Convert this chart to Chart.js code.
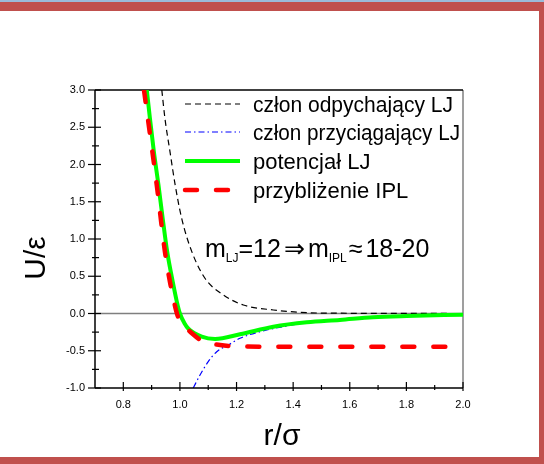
<!DOCTYPE html>
<html><head><meta charset="utf-8">
<script src="https://cdn.jsdelivr.net/npm/chart.js@4/dist/chart.umd.min.js"></script>
<style>
html,body{margin:0;padding:0;background:#fff;overflow:hidden}
#wrap{position:relative;width:544px;height:464px}
canvas{position:absolute;left:0;top:0}
.b{position:absolute}
</style></head><body>
<div id="wrap">
<canvas id="c" width="544" height="464"></canvas>
<div class="b" style="left:0;top:0;width:544px;height:2px;background:#9bbbd9"></div>
<div class="b" style="left:0;top:2px;width:544px;height:9px;background:#c0504d"></div>
<div class="b" style="left:539px;top:2px;width:5px;height:462px;background:#c0504d"></div>
<div class="b" style="left:0;top:457px;width:544px;height:7px;background:#c0504d"></div>
</div>
<script>
// ---- data ----
const seriesNames = ['człon odpychający LJ', 'człon przyciągający LJ', 'potencjał LJ', 'przybliżenie IPL'];

const rRepulsive = [0.936, 0.947, 0.965, 0.983, 1.006, 1.042, 1.089, 1.153, 1.224, 1.330, 1.448, 1.565, 1.700, 1.850, 2.000];
const uRepulsive = [3.00, 2.62, 2.17, 1.73, 1.28, 0.83, 0.47, 0.25, 0.114, 0.047, 0.011, 0.004, 0.002, 0.001, 0.000];

const rAttractive = [1.047, 1.071, 1.100, 1.130, 1.171, 1.212, 1.283, 1.377, 1.450, 1.565, 1.682, 1.800, 2.000];
const uAttractive = [-1.00, -0.826, -0.647, -0.513, -0.423, -0.333, -0.244, -0.168, -0.122, -0.090, -0.054, -0.036, -0.018];

const rLJ = [0.883, 0.894, 0.908, 0.924, 0.939, 0.955, 0.977, 0.989, 1.000, 1.016, 1.030, 1.077, 1.124, 1.212, 1.330, 1.448, 1.565, 1.682, 1.801, 2.000];
const uLJ = [3.00, 2.62, 2.17, 1.73, 1.28, 0.83, 0.38, 0.16, 0.00, -0.13, -0.205, -0.311, -0.342, -0.279, -0.177, -0.118, -0.087, -0.051, -0.034, -0.016];

const rIPL = [0.873, 0.918, 0.947, 0.967, 0.979, 0.991, 1.010, 1.036, 1.083, 1.142, 1.212, 1.350, 1.600, 1.800, 2.000];
const uIPL = [3.00, 1.73, 0.83, 0.38, 0.16, -0.02, -0.15, -0.244, -0.379, -0.423, -0.443, -0.446, -0.446, -0.446, -0.446];

const xTickValues = [0.8, 1.0, 1.2, 1.4, 1.6, 1.8, 2.0];
const xTickLabels = ['0.8', '1.0', '1.2', '1.4', '1.6', '1.8', '2.0'];
const xMinorTicks = [0.9, 1.1, 1.3, 1.5, 1.7, 1.9];
const yTickValues = [3.0, 2.5, 2.0, 1.5, 1.0, 0.5, 0.0, -0.5, -1.0];
const yTickLabels = ['3.0', '2.5', '2.0', '1.5', '1.0', '0.5', '0.0', '-0.5', '-1.0'];
const yMinorTicks = [2.75, 2.25, 1.75, 1.25, 0.75, 0.25, -0.25, -0.75];

const xTitle = 'r/σ';
const yTitle = 'U/ε';

const pts = (xs, ys) => xs.map((v, i) => ({x: v, y: ys[i]}));

// ---- custom axes / legend / annotation drawing ----
const FONT = '"Liberation Sans", Arial, sans-serif';
function seg(ctx, x1, y1, x2, y2) { ctx.beginPath(); ctx.moveTo(x1, y1); ctx.lineTo(x2, y2); ctx.stroke(); }

const framePlugin = {
  id: 'frame',
  beforeDatasetsDraw(chart) {
    const {ctx, chartArea: a, scales: {y}} = chart;
    ctx.save();
    ctx.lineWidth = 1.5;
    ctx.strokeStyle = '#7f7f7f';
    const y0 = y.getPixelForValue(0);
    seg(ctx, a.left, y0, a.right, y0);
    seg(ctx, a.right, a.top, a.right, a.bottom);
    ctx.strokeStyle = '#000';
    seg(ctx, a.left, a.top, a.right, a.top);
    ctx.restore();
  },
  afterDatasetsDraw(chart) {
    const {ctx, chartArea: a, scales: {x, y}} = chart;
    ctx.save();
    ctx.strokeStyle = '#000';
    ctx.lineWidth = 1.5;
    seg(ctx, a.left, a.top, a.left, a.bottom);
    seg(ctx, a.left, a.bottom, a.right, a.bottom);
    ctx.lineWidth = 1.2;
    // y ticks
    yTickValues.forEach(v => { const p = y.getPixelForValue(v); seg(ctx, a.left - 7, p, a.left + 6, p); });
    yMinorTicks.forEach(v => { const p = y.getPixelForValue(v); seg(ctx, a.left - 3, p, a.left + 4, p); });
    // x ticks
    xTickValues.forEach(v => { const p = x.getPixelForValue(v); seg(ctx, p, a.bottom - 6, p, a.bottom + 3); });
    xMinorTicks.forEach(v => { const p = x.getPixelForValue(v); seg(ctx, p, a.bottom - 3, p, a.bottom + 2); });
    // tick labels
    ctx.fillStyle = '#000';
    ctx.font = '11px ' + FONT;
    ctx.textBaseline = 'middle';
    ctx.textAlign = 'right';
    yTickValues.forEach((v, i) => ctx.fillText(yTickLabels[i], a.left - 10, y.getPixelForValue(v)));
    ctx.textAlign = 'center';
    xTickValues.forEach((v, i) => ctx.fillText(xTickLabels[i], x.getPixelForValue(v), a.bottom + 17));
    // axis titles
    ctx.font = '30px ' + FONT;
    ctx.textBaseline = 'alphabetic';
    ctx.fillText(xTitle, (a.left + a.right) / 2 + 3, 445);
    ctx.save();
    ctx.translate(45, 258);
    ctx.rotate(-Math.PI / 2);
    ctx.fillText(yTitle, 0, 0);
    ctx.restore();
    // legend
    ctx.font = '22px ' + FONT;
    ctx.textAlign = 'left';
    const rowY = [104, 132, 161, 190];
    const rowW = [200, 207, 124, 157];
    chart.data.datasets.forEach((ds, i) => {
      const ry = rowY[i];
      ctx.save();
      ctx.strokeStyle = ds.borderColor;
      ctx.lineWidth = ds.borderWidth;
      ctx.setLineDash(ds.borderDash || []);
      ctx.lineCap = ds.borderCapStyle || 'butt';
      seg(ctx, 185, ry, 240, ry);
      ctx.restore();
      ctx.fillText(ds.label, 253, ry + 8, rowW[i]);
    });
    // annotation  m_LJ = 12 => m_IPL ≈ 18-20
    let cx = 205; const base = 257;
    const big = '25px ' + FONT, small = '12px ' + FONT;
    const parts = [['m', big, 0, 0], ['LJ', small, 5, 0], ['=12', big, 0, 3], ['\u21D2', big, 0, 3], ['m', big, 0, 0], ['IPL', small, 5, 2], ['\u2248', big, 0, 3], ['18-20', big, 0, 0]];
    parts.forEach(([t, f, dy, gap]) => { ctx.font = f; ctx.fillText(t, cx, base + dy); cx += ctx.measureText(t).width + gap; });
    ctx.restore();
  }
};

new Chart(document.getElementById('c'), {
  type: 'line',
  data: {
    datasets: [
      {label: seriesNames[0], data: pts(rRepulsive, uRepulsive), borderColor: '#000000', borderWidth: 1.2, borderDash: [6, 4], order: 3},
      {label: seriesNames[1], data: pts(rAttractive, uAttractive), borderColor: '#0000ff', borderWidth: 1.2, borderDash: [6, 3, 1.5, 3], order: 2},
      {label: seriesNames[2], data: pts(rLJ, uLJ), borderColor: '#00ff00', borderWidth: 4, order: 1},
      {label: seriesNames[3], data: pts(rIPL, uIPL), borderColor: '#ff0000', borderWidth: 4.5, borderDash: [12, 19], borderCapStyle: 'round', order: 0}
    ]
  },
  options: {
    responsive: false,
    animation: false,
    devicePixelRatio: 1,
    layout: {padding: {left: 95, right: 81, top: 90, bottom: 76}},
    elements: {point: {radius: 0}, line: {cubicInterpolationMode: 'monotone', fill: false}},
    plugins: {legend: {display: false}, tooltip: {enabled: false}},
    scales: {
      x: {type: 'linear', min: 0.7, max: 2.0, display: false},
      y: {type: 'linear', min: -1.0, max: 3.0, display: false}
    }
  },
  plugins: [framePlugin]
});
</script>
</body></html>
